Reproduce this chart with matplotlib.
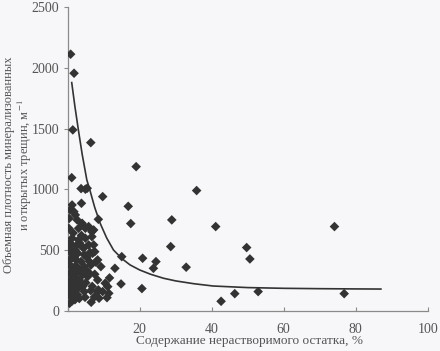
import matplotlib
matplotlib.use("Agg")
import matplotlib.pyplot as plt

plt.rcParams['font.family'] = ['Liberation Serif', 'DejaVu Serif']
plt.rcParams['mathtext.fontset'] = 'stix'

# Scatter data (insoluble residue %, fracture density m^-1)
x_vals = [0.8, 1.75, 1.4, 6.4, 1.1, 19.0, 3.7, 4.9, 5.4, 9.7, 35.8, 16.8, 17.5, 28.9, 41.1, 74.1,
          28.6, 49.7, 50.6, 8.5, 15.0, 20.8, 24.5, 23.8, 32.9, 13.1, 11.6, 11.1, 10.9, 14.8, 20.6,
          42.6, 46.4, 52.9, 76.8, 6.5, 8.7, 10.4, 11.4, 8.5, 9.7, 8.3, 7.4, 9.2, 8.3, 8.3, 7.5,
          3.8, 1.2, 0.7, 1.7, 2.1, 2.6, 4.0, 0.3, 3.0, 4.9, 5.8, 7.2, 6.7,
          1.2, 3.0, 4.9, 6.7, 1.0, 2.6, 4.0, 5.8, 7.2, 2.1, 4.4, 0.5,
          0.95, 2.8, 4.6, 6.9, 0.5, 2.3, 3.7, 6.0, 0.95, 2.8, 4.6, 6.4,
          0.5, 2.3, 4.1, 6.0, 0.95, 3.2, 5.0, 0.5, 2.3, 4.1, 1.4, 4.6, 6.4, 0.95, 3.2,
          0.5, 0.8, 1.8, 2.5, 1.5, 3.5, 1.8, 3.2, 1.5, 5.3, 5.5, 7.5, 6.8, 7.8, 2.8, 1.3, 4.8,
          3.8, 0.4, 2.0, 1.2, 0.4, 0.6, 1.6, 2.2, 0.7, 1.9, 0.3, 1.1, 2.7, 3.4, 5.6, 6.2]
y_vals = [2114, 1957, 1490, 1385, 1096, 1187, 1006, 1001, 1009, 940, 990, 860, 718, 748, 693, 693,
          528, 520, 426, 753, 445, 432, 404, 349, 358, 349, 270, 198, 107, 220, 182,
          77, 140, 157, 140, 69, 102, 226, 143, 171, 157, 157, 113, 363, 418, 253, 486,
          885, 871, 830, 816, 789, 748, 720, 679, 679, 679, 693, 665, 651,
          597, 583, 597, 610, 542, 542, 530, 542, 542, 500, 514, 510,
          473, 473, 460, 473, 418, 418, 405, 405, 363, 350, 363, 375,
          308, 308, 295, 308, 253, 253, 230, 198, 198, 198, 157, 157, 165, 113, 100,
          60, 150, 120, 260, 340, 330, 440, 560, 640, 440, 280, 300, 200, 400, 180, 230, 110,
          620, 760, 90, 80, 380, 560, 290, 370, 250, 470, 140, 430, 130, 230, 320, 480]

# Trend curve points
curve_x = [1.1, 2.0, 3.0, 4.0, 5.3, 6.0, 7.5, 9.0, 10.8, 12.7, 15.0, 17.3, 20.0, 23.0, 26.6,
           30.0, 35.0, 40.4, 50.0, 60.0, 70.0, 80.0, 87.0]
curve_y = [1880, 1680, 1480, 1290, 1077, 1009, 850, 720, 600, 500, 430, 377, 335, 300, 267,
           245, 222, 203, 190, 184, 181, 179, 178]

x_ticks = [0, 20, 40, 60, 80, 100]
x_tick_labels = ['', '20', '40', '60', '80', '100']
y_ticks = [0, 500, 1000, 1500, 2000, 2500]

bg = '#f7f6f9'
fig = plt.figure(figsize=(4.4, 3.51), dpi=100, facecolor=bg)
ax = fig.add_axes([0.154, 0.115, 0.818, 0.864], facecolor=bg)

ax.scatter(x_vals, y_vals, marker='D', s=24, color='#333333', edgecolors='none', zorder=3)
ax.plot(curve_x, curve_y, color='#333333', lw=1.2, zorder=2)

ax.set_xlim(0, 100)
ax.set_ylim(0, 2500)
ax.set_xticks(x_ticks)
ax.set_xticklabels(x_tick_labels)
ax.set_yticks(y_ticks)

for s in ['top', 'right']:
    ax.spines[s].set_visible(False)
for s in ['left', 'bottom']:
    ax.spines[s].set_color('#8a8a8a')
    ax.spines[s].set_linewidth(0.9)

ax.tick_params(axis='x', direction='in', length=3, color='#8a8a8a', labelsize=10,
               labelcolor='#555555', pad=9)
ax.tick_params(axis='y', direction='out', length=3, color='#8a8a8a', labelsize=10,
               labelcolor='#555555', pad=3)

fig.text(0.568, 0.012, 'Содержание нерастворимого остатка, %', fontsize=9.5,
         color='#555555', ha='center', va='bottom')
fig.text(0.042, 0.53, 'Объемная плотность минерализованных\nи открытых трещин, м$^{-1}$',
         fontsize=9, color='#555555', ha='center', va='center', rotation=90,
         linespacing=1.05, multialignment='center')

fig.savefig('out.png', dpi=100, facecolor=bg)
